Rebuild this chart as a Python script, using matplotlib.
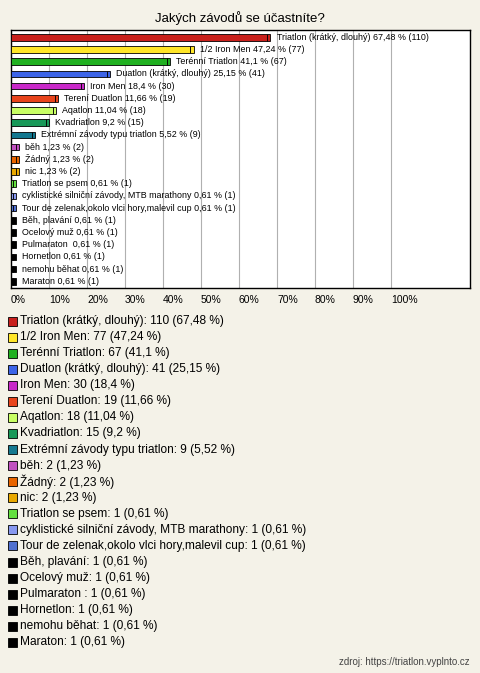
import matplotlib.pyplot as plt
from matplotlib.patches import Rectangle

labels = ['Triatlon (krátký, dlouhý)', '1/2 Iron Men', 'Terénní Triatlon', 'Duatlon (krátký, dlouhý)',
          'Iron Men', 'Terení Duatlon', 'Aqatlon', 'Kvadriatlon', 'Extrémní závody typu triatlon',
          'běh', 'Žádný', 'nic', 'Triatlon se psem', 'cyklistické silniční závody, MTB marathony',
          'Tour de zelenak,okolo vlci hory,malevil cup', 'Běh, plavání', 'Ocelový muž', 'Pulmaraton ',
          'Hornetlon', 'nemohu běhat', 'Maraton']
counts = [110, 77, 67, 41, 30, 19, 18, 15, 9, 2, 2, 2, 1, 1, 1, 1, 1, 1, 1, 1, 1]
pcts = ['67,48', '47,24', '41,1', '25,15', '18,4', '11,66', '11,04', '9,2', '5,52',
        '1,23', '1,23', '1,23', '0,61', '0,61', '0,61', '0,61', '0,61', '0,61', '0,61', '0,61', '0,61']
colors = ['#c8201c', '#ffe628', '#20b020', '#3c64e8', '#c828c8', '#e8441c', '#c8ff64', '#189858',
          '#147890', '#c050c0', '#e86400', '#e8a800', '#64e040', '#8898f0', '#5070d0'] + ['#000000'] * 6
total = 163

fig = plt.figure(figsize=(4.8, 6.73), dpi=100, facecolor='#f4f2e8')
W, H = 480, 673
ax = fig.add_axes([11 / W, 1 - 288 / H, 459 / W, 258 / H])
ax.set_facecolor('white')
n = len(labels)
vals = [c / total * 100 for c in counts]
ys = list(range(n))
ax.barh(ys, vals, height=0.55, color=colors, edgecolor='black', linewidth=0.6, zorder=3)
# pseudo 3d side
for y, v, c in zip(ys, vals, colors):
    ax.add_patch(Rectangle((v, y - 0.275), 0.8, 0.55, facecolor=c, edgecolor='black', lw=0.6, zorder=3))
    ax.text(v + 2.4, y, '%s %s %% (%d)' % (labels[y], pcts[y], counts[y]), fontsize=6.4,
            va='center', ha='left', zorder=4, family='Liberation Sans')
ax.set_xlim(0, 120.8)
ax.set_ylim(n - 0.45, -0.6)
ax.set_xticks(range(0, 101, 10))
ax.grid(axis='x', color='#b0b0b0', lw=0.8, zorder=0)
ax.set_yticks([])
ax.tick_params(axis='x', length=0, pad=5, labelsize=7.5)
ax.set_xticklabels(['%d%%' % t for t in range(0, 101, 10)], family='Liberation Sans', ha='left')
for s in ax.spines.values():
    s.set_linewidth(1)

fig.text(0.5, 1 - 18 / H, 'Jakých závodů se účastníte?', ha='center', va='center', fontsize=9.5,
         family='Liberation Sans')

for i in range(n):
    y = 321 + i * 16.07
    fig.patches.append(Rectangle((8 / W, 1 - (y + 4.5) / H), 9 / W, 9 / H, facecolor=colors[i],
                                 edgecolor='black', lw=0.6, transform=fig.transFigure, figure=fig))
    fig.text(20 / W, 1 - y / H, '%s: %d (%s %%)' % (labels[i], counts[i], pcts[i]), fontsize=8.6,
             va='center', ha='left', family='Liberation Sans')

fig.text(470 / W, 1 - 662 / H, 'zdroj: https://triatlon.vyplnto.cz', ha='right', va='center',
         fontsize=7, color='#444444', family='Liberation Sans')
fig.savefig('out.png', dpi=100, facecolor=fig.get_facecolor())
